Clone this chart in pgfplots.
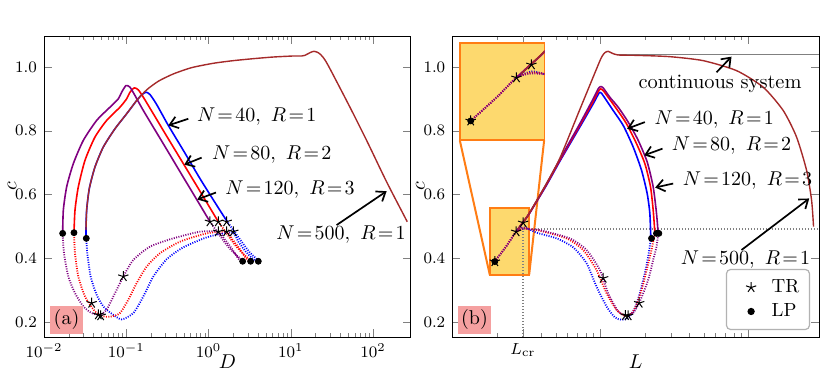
\documentclass[border=0pt]{standalone}
\usepackage{pgfplots}
\pgfplotsset{compat=1.18}
\usepackage{pgfplotstable}
\usetikzlibrary{arrows.meta}

\definecolor{cblue}{RGB}{0,0,255}
\definecolor{cred}{RGB}{255,0,0}
\definecolor{cpurple}{RGB}{128,0,128}
\definecolor{cbrown}{RGB}{165,42,42}
\definecolor{insetfill}{RGB}{253,217,110}
\definecolor{insetedge}{RGB}{255,125,20}
\definecolor{tagfill}{RGB}{245,160,160}

\newcommand\annfont{\fontsize{10.2}{12}\selectfont}
\newcommand\labfont{\fontsize{10}{12}\selectfont}
\newcommand\tickfont{\fontsize{8.3}{10}\selectfont}

\pgfplotsset{
  mysol/.style={line width=0.8pt, line join=round, smooth, tension=0.4},
  mydot/.style={line width=0.9pt, dash pattern=on 0.5pt off 0.7pt, smooth, tension=0.4},
  mytr/.style={only marks, mark=star, mark size=2.7pt, black, mark options={line width=0.5pt}},
  mylp/.style={only marks, mark=*, mark size=1.5pt, black},
  wideimg/.style={legend image code/.code={\draw[##1] plot coordinates {(9pt,0pt)}; \path (0pt,0pt) (17pt,0pt);}},
}
\tikzset{myann/.style={-{Straight Barb[length=4pt,width=6pt]}, line width=0.85pt, black}}

\begin{document}

% panel (b) data: L, c
\pgfplotstableread{
L c
2.700 0.4832
3.010 0.5134
3.305 0.5395
4.328 0.6291
5.325 0.7041
7.268 0.8114
8.946 0.8843
9.667 0.9134
9.922 0.9207
10.18 0.9176
11.01 0.8947
12.21 0.8634
14.27 0.8166
16.67 0.7489
18.98 0.6760
20.72 0.6030
21.60 0.5405
21.94 0.4603
}\bBlueSol
\pgfplotstableread{
L c
2.700 0.4832
3.010 0.5134
3.305 0.5395
4.328 0.6312
5.325 0.7072
7.268 0.8166
8.946 0.8915
9.667 0.9228
10.03 0.9311
10.45 0.9259
11.29 0.9051
12.86 0.8686
15.03 0.8218
17.56 0.7593
19.99 0.6968
21.83 0.6239
22.75 0.5509
23.35 0.4801
}\bRedSol
\pgfplotstableread{
L c
2.700 0.4832
3.010 0.5134
3.305 0.5395
4.328 0.6332
5.325 0.7103
7.268 0.8218
8.946 0.8999
9.667 0.9311
10.03 0.9384
10.45 0.9343
11.59 0.9051
13.20 0.8738
15.42 0.8270
18.02 0.7697
20.72 0.7020
22.75 0.6239
23.96 0.5405
24.59 0.4780
}\bPurpleSol
\pgfplotstableread{
L c
1.937 0.3895
2.347 0.4416
2.700 0.4832
3.010 0.4968
3.339 0.4905
3.704 0.4801
5.056 0.4624
6.553 0.4343
8.064 0.3843
9.421 0.3113
11.01 0.2489
12.53 0.2145
13.90 0.2072
15.42 0.2124
17.11 0.2436
18.49 0.2905
19.99 0.3530
21.05 0.4051
21.94 0.4603
}\bBlueDot
\pgfplotstableread{
L c
1.937 0.3895
2.347 0.4416
2.700 0.4832
3.010 0.4947
3.339 0.4916
3.901 0.4864
5.908 0.4624
7.656 0.4259
9.421 0.3634
11.01 0.2905
12.86 0.2384
14.64 0.2197
16.24 0.2259
17.74 0.2593
19.27 0.3113
20.83 0.3739
22.17 0.4259
23.35 0.4801
}\bRedDot
\pgfplotstableread{
L c
1.937 0.3895
2.347 0.4416
2.700 0.4832
3.010 0.4926
3.339 0.4905
3.901 0.4884
6.221 0.4624
8.064 0.4259
9.922 0.3634
11.29 0.2905
13.20 0.2332
15.03 0.2197
16.67 0.2280
18.49 0.2645
21.05 0.3322
22.75 0.3947
23.96 0.4364
24.59 0.4780
}\bPurpleDot
\pgfplotstableread{
L c
2.785 0.4905
3.058 0.5176
3.305 0.5405
4.328 0.6343
5.325 0.7134
7.268 0.8665
9.421 0.9936
10.18 1.0301
10.72 1.0447
11.29 1.0489
12.08 1.0426
13.20 1.0374
17.56 1.0363
29.48 1.0322
49.53 1.0197
83.18 0.9884
126.0 0.9364
171.9 0.8634
211.6 0.7801
247.2 0.6760
267.3 0.5822
275.6 0.4989
}\bBrown
\pgfplotstableread{
L c
1.937 0.3895
2.700 0.4832
3.010 0.5114
10.45 0.3374
14.79 0.2207
15.42 0.2197
18.30 0.2593
}\bTR
\pgfplotstableread{
L c
1.937 0.3895
22.17 0.4624
23.96 0.4780
24.85 0.4780
}\bLP

\begin{tikzpicture}
\useasboundingbox (0,0) rectangle (415.5pt,187pt);

% ---------------- panel (a)
\begin{axis}[at={(22pt,18.5pt)}, anchor=south west,
  scale only axis, width=183.35pt, height=150.5pt,
  xmode=log, xmin=0.01, xmax=286, ymin=0.153, ymax=1.097,
  ytick={0.2,0.4,0.6,0.8,1.0},
  yticklabel style={/pgf/number format/fixed, /pgf/number format/fixed zerofill, /pgf/number format/precision=1},
  tick label style={font=\tickfont},
  major tick length=4pt, minor tick length=2.2pt,
  xlabel={$D$}, ylabel={$c$},
  xlabel style={at={(axis description cs:0.5,-0.083)}, anchor=center, font=\labfont},
  ylabel style={at={(axis description cs:-0.087,0.5)}, anchor=center, font=\labfont}]
\addplot[mysol, cblue] coordinates {(0.03238,0.4603)(0.03238,0.4884)(0.03299,0.5509)(0.03554,0.6186)(0.04166,0.6863)(0.05260,0.7489)(0.07290,0.8061)(0.1010,0.8530)(0.1337,0.8947)(0.1537,0.9124)(0.1736,0.9207)(0.1941,0.9134)(0.2339,0.8822)(0.3241,0.8166)(0.4932,0.7384)(0.7862,0.6499)(1.253,0.5666)(1.658,0.5176)};
\addplot[mysol, cred] coordinates {(0.02315,0.4801)(0.02381,0.5509)(0.02613,0.6239)(0.03150,0.7072)(0.04166,0.7801)(0.05772,0.8322)(0.08381,0.8738)(0.1010,0.8999)(0.1109,0.9207)(0.1252,0.9343)(0.1400,0.9280)(0.1611,0.9051)(0.2131,0.8530)(0.3094,0.7832)(0.4932,0.6968)(0.7862,0.6103)(1.313,0.5145)};
\addplot[mysol, cpurple] coordinates {(0.01686,0.4780)(0.01718,0.5509)(0.01886,0.6239)(0.02272,0.6968)(0.03006,0.7697)(0.04365,0.8322)(0.06336,0.8738)(0.08000,0.8999)(0.08784,0.9207)(0.09917,0.9416)(0.1109,0.9364)(0.1276,0.9103)(0.1611,0.8634)(0.3094,0.7416)(0.4932,0.6541)(0.7297,0.5811)(1.040,0.5145)};
\addplot[mysol, cbrown, line width=0.7pt] coordinates {(0.03238,0.4884)(0.03299,0.5509)(0.03554,0.6186)(0.04166,0.6863)(0.05260,0.7489)(0.07290,0.8061)(0.1010,0.8530)(0.1337,0.8947)(0.1768,0.9280)(0.2451,0.9551)(0.3727,0.9780)(0.6227,0.9978)(1.141,1.0114)(1.998,1.0197)(3.495,1.0259)(6.116,1.0311)(10.70,1.0343)(13.51,1.0343)(14.84,1.0363)(17.06,1.0447)(19.09,1.0489)(21.54,1.0447)(24.32,1.0322)(28.50,1.0041)(52.24,0.8738)(83.27,0.7697)(145.8,0.6395)(259.8,0.5145)};
\addplot[mydot, cblue] coordinates {(1.658,0.5176)(1.998,0.4884)(2.522,0.4520)(3.184,0.4176)(4.020,0.3926)(3.662,0.3926)(2.901,0.4176)(2.297,0.4520)(1.998,0.4801)(1.510,0.4780)(0.9473,0.4655)(0.4932,0.4343)(0.3094,0.3968)(0.2131,0.3426)(0.1611,0.2801)(0.1218,0.2280)(0.08784,0.2082)(0.06640,0.2260)(0.05260,0.2489)(0.04365,0.2853)(0.03690,0.3426)(0.03361,0.4155)(0.03267,0.4624)};
\addplot[mydot, cred] coordinates {(1.313,0.5145)(1.658,0.4780)(2.094,0.4416)(2.642,0.4134)(3.244,0.3926)(2.955,0.3947)(2.362,0.4311)(1.906,0.4624)(1.658,0.4832)(0.9473,0.4780)(0.4493,0.4520)(0.2567,0.4155)(0.1768,0.3739)(0.1337,0.3218)(0.1058,0.2697)(0.08381,0.2280)(0.06640,0.2176)(0.05260,0.2176)(0.04166,0.2332)(0.03150,0.2801)(0.02613,0.3426)(0.02381,0.4155)(0.02315,0.4801)};
\addplot[mydot, cpurple] coordinates {(1.040,0.5145)(1.313,0.4780)(1.658,0.4416)(2.094,0.4134)(2.594,0.3926)(2.362,0.3947)(1.906,0.4311)(1.539,0.4624)(1.313,0.4832)(0.7862,0.4832)(0.3727,0.4624)(0.1941,0.4364)(0.1218,0.3947)(0.09204,0.3426)(0.07290,0.2905)(0.05772,0.2384)(0.04792,0.2228)(0.03795,0.2280)(0.03006,0.2489)(0.02381,0.2905)(0.01976,0.3426)(0.0175,0.4155)(0.01686,0.4780)};
\addplot[mytr] coordinates {(1.040,0.5145)(1.313,0.5145)(1.658,0.5145)(1.313,0.4832)(1.658,0.4832)(1.998,0.4832)(0.09204,0.3426)(0.03795,0.2593)(0.04574,0.2228)(0.04881,0.2197)};
\addplot[mylp] coordinates {(0.01686,0.4780)(0.02315,0.4801)(0.03267,0.4624)(2.594,0.3905)(3.244,0.3905)(4.020,0.3905)};

\node[anchor=west, font=\annfont] at (axis cs:0.594,0.8447) {$N\!=\!40,\ R\!=\!1$};
\draw[myann] (axis cs:0.567,0.8374) -- (axis cs:0.3241,0.8166);
\node[anchor=west, font=\annfont] at (axis cs:0.904,0.7249) {$N\!=\!80,\ R\!=\!2$};
\draw[myann] (axis cs:0.824,0.7155) -- (axis cs:0.507,0.6936);
\node[anchor=west, font=\annfont] at (axis cs:1.313,0.6155) {$N\!=\!120,\ R\!=\!3$};
\draw[myann] (axis cs:1.230,0.6061) -- (axis cs:0.7297,0.5843);
\node[anchor=west, font=\annfont] at (axis cs:5.47,0.4749) {$N\!=\!500,\ R\!=\!1$};
\draw[myann] (axis cs:35.98,0.5041) -- (axis cs:145.8,0.6103);
\node[fill=tagfill, inner sep=0pt, minimum width=16.5pt, minimum height=14pt,
  font=\fontsize{10}{12}\selectfont] at (axis description cs:0.0614,0.0565) {(a)};
\end{axis}

% ---------------- panel (b)
\begin{axis}[at={(226.15pt,18.5pt)}, anchor=south west,
  scale only axis, width=183.35pt, height=150.5pt,
  xmode=log, xmin=1, xmax=300, ymin=0.153, ymax=1.097,
  xtick={1,10,100}, xticklabels={,,},
  extra x ticks={3.0}, extra x tick labels={$L_{\mathrm{cr}}$},
  ytick={0.2,0.4,0.6,0.8,1.0},
  yticklabel style={/pgf/number format/fixed, /pgf/number format/fixed zerofill, /pgf/number format/precision=1},
  tick label style={font=\tickfont},
  major tick length=4pt, minor tick length=2.2pt,
  xlabel={$L$}, ylabel={$c$},
  xlabel style={at={(axis description cs:0.5,-0.083)}, anchor=center, font=\labfont},
  ylabel style={at={(axis description cs:-0.087,0.5)}, anchor=center, font=\labfont},
  legend style={at={(axis description cs:0.9755,0.023)}, anchor=south east,
    draw=gray!60, line width=0.6pt, rounded corners=2pt, font=\fontsize{9.5}{11}\selectfont,
    inner xsep=3pt, inner ysep=3pt, row sep=0pt},
  legend cell align=left]
\fill[insetfill] (axis cs:1.792,0.348) rectangle (axis cs:3.305,0.558);
\draw[insetedge, line width=1pt] (axis cs:1.792,0.348) rectangle (axis cs:3.305,0.558);
\draw[insetedge, line width=1pt] (axis cs:1.124,0.7697) -- (axis cs:1.792,0.348);
\draw[insetedge, line width=1pt] (axis cs:4.172,0.7697) -- (axis cs:3.305,0.348);
\addplot[gray, line width=0.6pt, forget plot] coordinates {(12.86,1.0395)(300,1.0395)};
\addplot[gray, line width=0.6pt, dash pattern=on 0.5pt off 1pt, forget plot] coordinates {(3.0,0.153)(3.0,0.4916)(300,0.4916)};
\addplot[mysol, cblue, forget plot] table {\bBlueSol};
\addplot[mysol, cred, forget plot] table {\bRedSol};
\addplot[mysol, cpurple, forget plot] table {\bPurpleSol};
\addplot[mysol, cbrown, line width=0.7pt, forget plot] table {\bBrown};
\addplot[mydot, cblue, forget plot] table {\bBlueDot};
\addplot[mydot, cred, forget plot] table {\bRedDot};
\addplot[mydot, cpurple, forget plot] table {\bPurpleDot};
\addplot[mytr, forget plot] table {\bTR};
\addplot[mylp, forget plot] table {\bLP};

\node[anchor=west, font=\annfont] at (axis cs:20.83,0.8343) {$N\!=\!40,\ R\!=\!1$};
\draw[myann] (axis cs:19.99,0.827) -- (axis cs:15.18,0.8061);
\node[anchor=west, font=\annfont] at (axis cs:27.29,0.7520) {$N\!=\!80,\ R\!=\!2$};
\draw[myann] (axis cs:26.30,0.7437) -- (axis cs:19.78,0.7228);
\node[anchor=west, font=\annfont] at (axis cs:32.37,0.6447) {$N\!=\!120,\ R\!=\!3$};
\draw[myann] (axis cs:31.05,0.6343) -- (axis cs:23.47,0.6218);
\node[anchor=west, font=\annfont] at (axis cs:31.37,0.3947) {$N\!=\!500,\ R\!=\!1$};
\draw[myann] (axis cs:89.9,0.4259) -- (axis cs:257.6,0.5874);
\node[anchor=west, font=\annfont] at (axis cs:16.24,0.9468) {continuous system};
\draw[myann] (axis cs:60.94,0.9832) -- (axis cs:76.95,1.0322);
\node[fill=tagfill, inner sep=0pt, minimum width=16.5pt, minimum height=14pt,
  font=\fontsize{10}{12}\selectfont] at (axis description cs:0.0605,0.0565) {(b)};

\addlegendimage{mytr, wideimg}
\addlegendentry{TR}
\addlegendimage{mylp, wideimg}
\addlegendentry{LP}
\end{axis}

% ---------------- inset of panel (b)
\begin{axis}[at={(230pt,117pt)}, anchor=south west, scale only axis,
  width=42.15pt, height=48.35pt, xmode=log,
  xmin=1.792, xmax=3.305, ymin=0.348, ymax=0.558,
  xtick=\empty, ytick=\empty,
  axis background/.style={fill=insetfill},
  axis line style={insetedge, line width=0.8pt}]
\addplot[mysol, cblue] table {\bBlueSol};
\addplot[mysol, cred] table {\bRedSol};
\addplot[mysol, cpurple] table {\bPurpleSol};
\addplot[mysol, cbrown, line width=0.7pt] table {\bBrown};
\addplot[mydot, cblue] table {\bBlueDot};
\addplot[mydot, cred] table {\bRedDot};
\addplot[mydot, cpurple] table {\bPurpleDot};
\addplot[mytr] table {\bTR};
\addplot[mylp] table {\bLP};
\end{axis}
\end{tikzpicture}
\end{document}
